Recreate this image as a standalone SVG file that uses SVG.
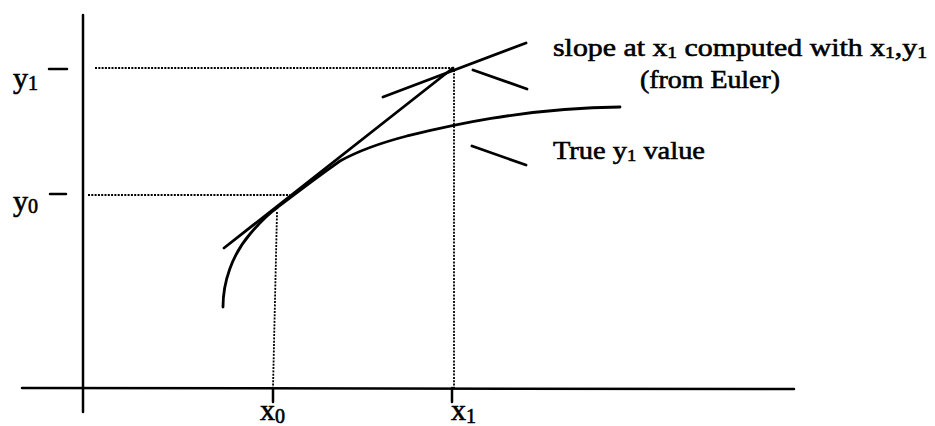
<svg xmlns="http://www.w3.org/2000/svg" width="935" height="426" viewBox="0 0 935 426">
<style>
.ax{stroke:#000;stroke-width:2.5;fill:none;stroke-linecap:round}
.ln{stroke:#000;stroke-width:2.8;fill:none;stroke-linecap:round}
.dot{stroke:#000;stroke-width:1.8;fill:none;stroke-dasharray:2 1.3}
.t{font-family:"Liberation Serif","Times New Roman",serif;fill:#000;stroke:#000;stroke-width:0.6}
.lab{font-size:26px}
.axl{font-size:30px}
</style>
<rect width="935" height="426" fill="#fff"/>
<g id="axes">
<path class="ax" d="M83,15 L83,412"/>
<path class="ax" d="M22,388 L794,389"/>
<path class="ax" d="M49,69 L67,69" stroke-width="3"/>
<path class="ax" d="M50,194 L66,194" stroke-width="1.8"/>
<path class="ax" d="M273,388 L273,402" stroke-width="2"/>
<path class="ax" d="M452,388 L452,402" stroke-width="2"/>
</g>
<g id="axis-labels">
<text class="t axl" x="13" y="88">y<tspan font-size="20" dy="2">1</tspan></text>
<text class="t axl" x="13" y="211">y<tspan font-size="20" dy="2">0</tspan></text>
<text class="t axl" x="260" y="420">x<tspan font-size="20" dy="3">0</tspan></text>
<text class="t axl" x="451" y="420">x<tspan font-size="20" dy="3">1</tspan></text>
</g>
<g id="guides">
<path class="dot" d="M95,68 L454,68"/>
<path class="dot" d="M88,195 L290,195"/>
<path class="dot" d="M277,212 L273,388"/>
<path class="dot" d="M454,70 L454,388"/>
</g>
<g id="true-curve">
<path class="ln" d="M223,307 C223,282 232,255 250,234 C260,222 268,214 278,207 C300,190 320,175 340,161 C360,150 380,143 407,136 C440,128 520,108 620,107"/>
</g>
<g id="euler-tangent">
<path class="ln" d="M224,248 L453,68"/>
</g>
<g id="slope-at-x1">
<path class="ln" d="M383,97 L526,43"/>
</g>
<g id="connectors">
<path class="ln" d="M473,70 L527,89"/>
<path class="ln" d="M472,146 L526,165"/>
</g>
<g id="label-slope">
<text class="t lab" x="553" y="56" textLength="374" lengthAdjust="spacingAndGlyphs">slope at x<tspan font-size="17" dy="2">1</tspan><tspan dy="-2"> computed with x</tspan><tspan font-size="17" dy="2">1</tspan><tspan dy="-2">,y</tspan><tspan font-size="17" dy="2">1</tspan></text>
<text class="t lab" x="640" y="88" textLength="140" lengthAdjust="spacingAndGlyphs">(from Euler)</text>
</g>
<g id="label-true">
<text class="t lab" x="553" y="159" textLength="152" lengthAdjust="spacingAndGlyphs">True y<tspan font-size="17" dy="2">1</tspan><tspan dy="-2"> value</tspan></text>
</g>
</svg>
